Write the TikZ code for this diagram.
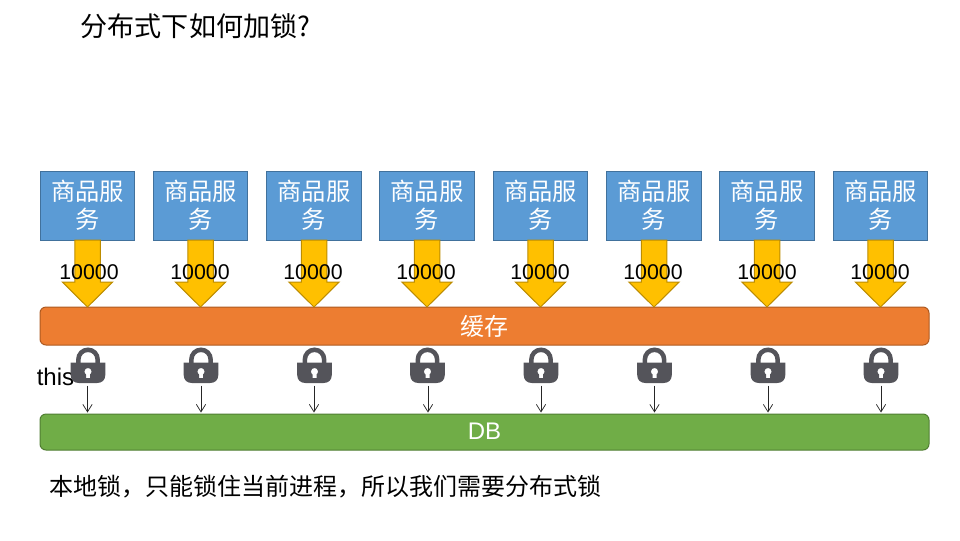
\documentclass[tikz,border=0pt]{standalone}
\usepackage{fontspec}
\setmainfont{Liberation Sans}
\newfontfamily\cjk{Noto Sans CJK SC}
\usetikzlibrary{arrows.meta}
\definecolor{boxfill}{HTML}{5B9BD5}
\definecolor{boxline}{HTML}{41719C}
\definecolor{orfill}{HTML}{ED7D31}
\definecolor{orline}{HTML}{AE5A21}
\definecolor{grfill}{HTML}{70AD47}
\definecolor{grline}{HTML}{507E32}
\definecolor{yefill}{HTML}{FFC000}
\definecolor{yeline}{HTML}{BC8C00}
\definecolor{lockc}{HTML}{54545A}
\tikzset{
  x=0.75pt,y=-0.75pt,
  svc/.style={draw=boxline,fill=boxfill,line width=0.75pt,text=white,minimum width=71pt,minimum height=51.75pt,inner sep=0pt,align=center,font=\fontsize{18.2}{21}\cjk},
  bar/.style={rounded corners=4.5pt,line width=0.75pt,minimum width=666.75pt,inner sep=0pt,text=white,font=\fontsize{18}{21}\selectfont},
  blockarrow/.style={draw=yeline,fill=yefill,line width=0.75pt},
  count/.style={font=\fontsize{16}{19}\selectfont,inner sep=0pt},
  lockbody/.style={fill=lockc,draw=none,even odd rule},
  lockshackle/.style={draw=lockc,line width=3.4pt},
  lockanchor/.style={minimum width=25.5pt,minimum height=27pt,inner sep=0pt},
  thin arrow/.style={draw=black!85,line width=0.55pt,-{Straight Barb[length=5.6pt,width=7pt,line width=0.55pt]}},
  note/.style={anchor=west,inner sep=0pt,font=\fontsize{18}{21}\cjk}
}
\begin{document}
\begin{tikzpicture}
\useasboundingbox (0,0) rectangle (960,540);
\node[anchor=west,inner sep=0pt,font=\fontsize{20.3}{25}\cjk] (title) at (80.5,26) {分布式下如何加锁?};
\node[bar,draw=orline,fill=orfill,minimum height=28.5pt] (cache) at (484.5,326) {\cjk 缓存};
\node[bar,draw=grline,fill=grfill,minimum height=27pt] (db) at (484.5,432) {\raisebox{0.6pt}{DB}};
\node[anchor=west,inner sep=0pt,font=\fontsize{18}{21}\selectfont] (this) at (36.5,376.5) {this};
\foreach \i/\cx/\tx/\lx/\ax in {
  1/87.5/89/88/87.5,
  2/200.5/200/201/201,
  3/314/313/314.5/314,
  4/427/426/427.5/428,
  5/540.5/540/541/541,
  6/654/653/654.5/654.5,
  7/767/767/768/768,
  8/880.5/880/881/881}{
  \node[svc] (b\i) at (\cx,205.5) {\raisebox{0.6pt}{商品服}\\\raisebox{0.6pt}{务}};
  \draw[blockarrow] (\cx-12.75,240) -- (\cx+12.75,240) -- (\cx+12.75,282) -- (\cx+25.2,282)
     -- (\cx,307) -- (\cx-25.2,282) -- (\cx-12.75,282) -- cycle;
  \node[count] (n\i) at (\tx,272) {10000};
  \node[lockanchor] (l\i) at (\lx,366) {};
  \draw[lockshackle] (\lx-9.7,364) -- (\lx-9.7,360)
     .. controls (\lx-9.7,354) and (\lx-5.5,349.8) .. (\lx,349.8)
     .. controls (\lx+5.5,349.8) and (\lx+9.7,354) .. (\lx+9.7,360) -- (\lx+9.7,364);
  \fill[lockbody] (\lx-17.3,362.5) -- (\lx+17.3,362.5) -- (\lx+17.3,375) 
     .. controls (\lx+17.3,380) and (\lx+14,383) .. (\lx+9,383)
     -- (\lx-9,383) .. controls (\lx-14,383) and (\lx-17.3,380) .. (\lx-17.3,375) -- cycle
     (\lx-3.6,371.5) .. controls (\lx-3.6,366.8) and (\lx+3.6,366.8) .. (\lx+3.6,371.5)
     .. controls (\lx+3.6,373) and (\lx+2.5,374) .. (\lx+2,374.5) -- (\lx+2,378) -- (\lx-2,378) -- (\lx-2,374.5)
     .. controls (\lx-2.5,374) and (\lx-3.6,373) .. (\lx-3.6,371.5) -- cycle;
  \coordinate (t\i) at (\ax,385.5);
  \draw[thin arrow] (t\i) -- (\ax,412.5);
}
\node[note] (foot) at (49,487) {本地锁，只能锁住当前进程，所以我们需要分布式锁};
\end{tikzpicture}
\end{document}
